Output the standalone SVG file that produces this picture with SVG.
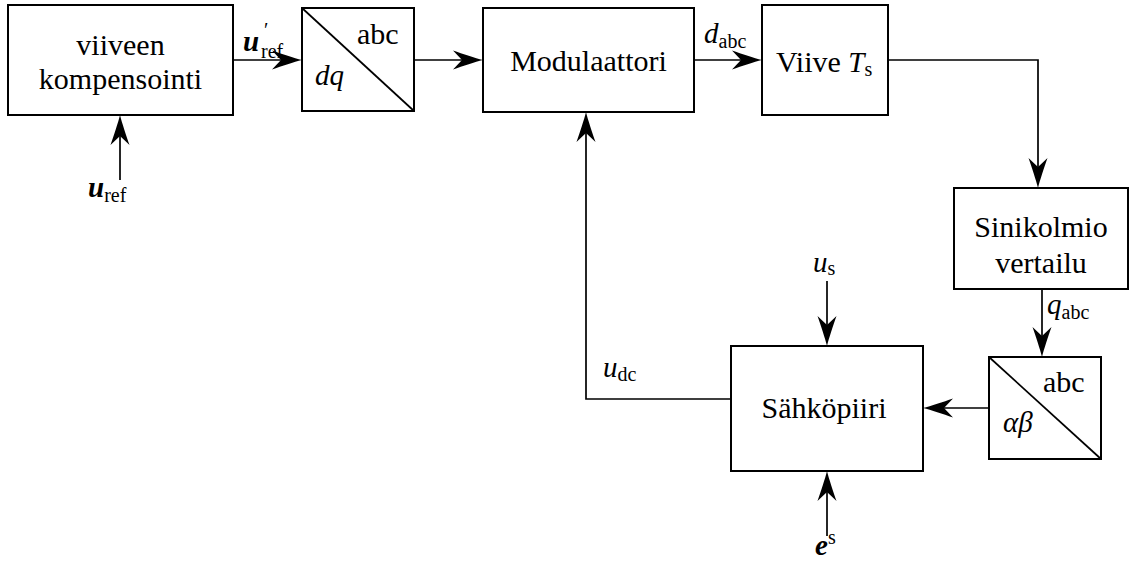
<svg xmlns="http://www.w3.org/2000/svg" width="1129" height="562" viewBox="0 0 1129 562">
<style>
.box{fill:#fff;stroke:#000;stroke-width:2}
.ln{fill:none;stroke:#000;stroke-width:1.7}
.arr{fill:none;stroke:#000;stroke-width:1.7;marker-end:url(#ah)}
.t{font-family:'Liberation Serif',serif;font-size:30px;fill:#000}
.m{font-family:'Liberation Serif',serif;font-size:29px;font-style:italic;fill:#000}
.b{font-weight:bold}
.sub{font-family:'Liberation Serif',serif;font-size:20px;font-style:normal;font-weight:normal}
</style>
<defs>
<marker id="ah" markerUnits="userSpaceOnUse" markerWidth="32" markerHeight="22" viewBox="0 -11 32 22" refX="20" refY="0" orient="auto">
<path d="M30,0 C22,-2 10,-6 0,-9.5 L9,0 L0,9.5 C10,6 22,2 30,0 Z" fill="#000"/>
</marker>
</defs>
<g id="connectors">
<path class="arr" d="M120,180 V125"/>
<path class="arr" d="M233,60 H292"/>
<path class="arr" d="M414,60 H473"/>
<path class="arr" d="M694,60 H752"/>
<path class="arr" d="M888,60 H1038 V178"/>
<path class="arr" d="M1042,289 V347"/>
<path class="arr" d="M989,408 H933"/>
<path class="arr" d="M827,281 V336"/>
<path class="arr" d="M827,536 V481"/>
<path class="arr" d="M731,399 H586 V122"/>
</g>
<g id="kompensointi">
<rect class="box" x="8" y="5" width="225" height="110"/>
<text class="t" x="120.5" y="55" text-anchor="middle">viiveen</text>
<text class="t" x="120.5" y="89" text-anchor="middle">kompensointi</text>
</g>
<g id="dq-abc">
<rect class="box" x="302" y="8" width="112" height="103"/>
<path class="ln" d="M302,8 L414,111"/>
<text class="t" x="357" y="44">abc</text>
<text class="m" x="315" y="85">dq</text>
</g>
<g id="modulaattori">
<rect class="box" x="483" y="8" width="211" height="104"/>
<text class="t" x="588.5" y="71" text-anchor="middle">Modulaattori</text>
</g>
<g id="viive">
<rect class="box" x="762" y="5" width="126" height="110"/>
<text class="t" x="776" y="72">Viive <tspan class="m">T</tspan><tspan class="sub" dy="4">s</tspan></text>
</g>
<g id="sinikolmio">
<rect class="box" x="954" y="188" width="174" height="101"/>
<text class="t" x="1041" y="237" text-anchor="middle">Sinikolmio</text>
<text class="t" x="1041" y="273" text-anchor="middle">vertailu</text>
</g>
<g id="alphabeta-abc">
<rect class="box" x="989" y="357" width="112" height="102"/>
<path class="ln" d="M989,357 L1101,459"/>
<text class="t" x="1043" y="392">abc</text>
<text class="m" x="1003" y="432">αβ</text>
</g>
<g id="sahkopiiri">
<rect class="box" x="731" y="346" width="192" height="125"/>
<text class="t" x="824" y="418" text-anchor="middle">Sähköpiiri</text>
</g>
<g id="labels">
<text class="m b" x="243" y="51">u</text>
<text class="sub" x="264" y="37" font-size="18">′</text>
<text class="sub" x="261" y="58">ref</text>
<text class="m b" x="88" y="197">u<tspan class="sub" dy="5">ref</tspan></text>
<text class="m" x="704" y="43">d<tspan class="sub" dy="5">abc</tspan></text>
<text class="m" x="1047" y="314">q<tspan class="sub" dy="5">abc</tspan></text>
<text class="m" x="813" y="272">u<tspan class="sub" dy="3">s</tspan></text>
<text class="m" x="603" y="377">u<tspan class="sub" dy="4">dc</tspan></text>
<text class="m b" x="815" y="555">e<tspan class="sub" dy="-11">s</tspan></text>
</g>
</svg>
